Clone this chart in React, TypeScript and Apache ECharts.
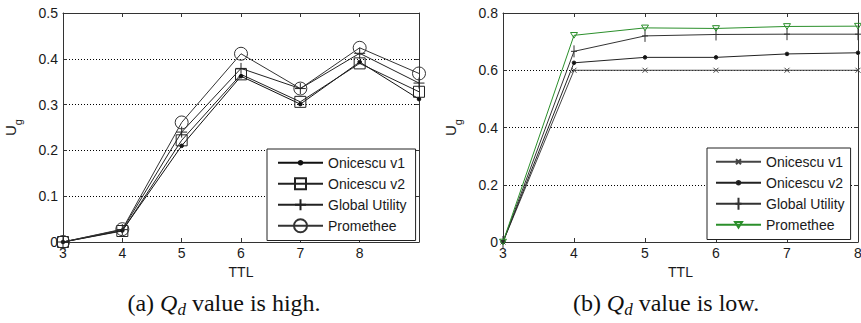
import React, { useEffect, useRef } from 'react';
import * as echarts from 'echarts';

// ---- data: panel (a) Q_d value is high ----
const ttlA = [3, 4, 5, 6, 7, 8, 9];
const aOnicescuV1 = [0, 0.025, 0.21, 0.362, 0.301, 0.393, 0.312];
const aOnicescuV2 = [0, 0.024, 0.222, 0.366, 0.306, 0.39, 0.328];
const aGlobalUtility = [0, 0.027, 0.24, 0.379, 0.335, 0.412, 0.347];
const aPromethee = [0, 0.028, 0.261, 0.411, 0.335, 0.424, 0.368];

// ---- data: panel (b) Q_d value is low ----
const ttlB = [3, 4, 5, 6, 7, 8];
const bOnicescuV1 = [0, 0.6, 0.6, 0.6, 0.6, 0.6];
const bOnicescuV2 = [0, 0.626, 0.645, 0.645, 0.657, 0.661];
const bGlobalUtility = [0, 0.666, 0.72, 0.725, 0.726, 0.726];
const bPromethee = [0, 0.722, 0.748, 0.746, 0.753, 0.754];

const seriesNames = ['Onicescu v1', 'Onicescu v2', 'Global Utility', 'Promethee'];
const xLabelA = 'TTL';
const xLabelB = 'TTL';
const captionA = '(a) {q|Q}{d|d} value is high.';
const captionB = '(b) {q|Q}{d|d} value is low.';

const PAD = 'M-7,-7M7,7';
const SYM = {
  dot: `path://${PAD}M-1.8,0A1.8,1.8,0,1,1,1.8,0A1.8,1.8,0,1,1,-1.8,0Z`,
  square: `path://${PAD}M-5.5,-5.5L5.5,-5.5L5.5,5.5L-5.5,5.5Z`,
  plus: `path://${PAD}M0,-5.5L0,5.5M-5.5,0L5.5,0`,
  circle: `path://${PAD}M-6.5,0A6.5,6.5,0,1,1,6.5,0A6.5,6.5,0,1,1,-6.5,0Z`,
  cross: `path://${PAD}M-2.5,-2.5L2.5,2.5M-2.5,2.5L2.5,-2.5`,
  plusB: `path://${PAD}M0,-6L0,6M-3,0L3,0`,
  triDown: `path://${PAD}M-3.5,-2.8L3.5,-2.8L0,2.8Z`,
};

const LINE = '#333';
const GREEN = '#2b8f2b';
const FONT = 'Liberation Sans, Arial, sans-serif';
const FS = 14;

const zip = (xs: number[], ys: number[]) => xs.map((x, i) => [x, ys[i]]);

function mkSeries(name: string, xs: number[], ys: number[], grid: number, symbol: string, color: string, fill: string) {
  return {
    type: 'line',
    name,
    xAxisIndex: grid * 2,
    yAxisIndex: grid * 2,
    data: zip(xs, ys),
    symbol,
    symbolSize: 14,
    showSymbol: true,
    lineStyle: { color, width: 1 },
    itemStyle: { color: fill, borderColor: color, borderWidth: 1 },
    emphasis: { disabled: true },
  };
}

function axisPair(grid: number, min: number, max: number, interval: number, isX: boolean, labelFmt: (v: number) => string, name?: string) {
  const base = {
    gridIndex: grid,
    type: 'value',
    min,
    max,
    interval,
    axisLine: { show: true, onZero: false, lineStyle: { color: LINE, width: 1 } },
    axisTick: { show: true, inside: true, length: 4, lineStyle: { color: LINE, width: 1 } },
  };
  const main: any = {
    ...base,
    position: isX ? 'bottom' : 'left',
    axisLabel: { color: '#1a1a1a', fontFamily: FONT, fontSize: FS, margin: isX ? 4 : 5, formatter: labelFmt },
    splitLine: isX
      ? { show: false }
      : { show: true, lineStyle: { color: '#000', width: 1, type: [1, 2] } },
  };
  if (isX) {
    main.name = name;
    main.nameLocation = 'middle';
    main.nameGap = 23;
    main.nameTextStyle = { color: '#1a1a1a', fontFamily: FONT, fontSize: FS };
  } else {
    main.name = '{u|U}{g|g}';
    main.nameLocation = 'middle';
    main.nameRotate = 90;
    main.nameGap = 40;
    main.nameTextStyle = {
      color: '#1a1a1a',
      fontFamily: FONT,
      rich: {
        u: { fontSize: 15, fontFamily: FONT, color: '#1a1a1a', lineHeight: 20, verticalAlign: 'top' },
        g: { fontSize: 11, fontFamily: FONT, color: '#1a1a1a', lineHeight: 12, verticalAlign: 'bottom' },
      },
    };
  }
  const mirror: any = {
    ...base,
    position: isX ? 'top' : 'right',
    axisLabel: { show: false },
    splitLine: { show: false },
  };
  return [main, mirror];
}

function legendFor(left: number, top: number, names: string[], padLeft: number, padRight: number) {
  return {
    orient: 'vertical',
    left,
    top,
    data: names,
    itemWidth: 45,
    itemHeight: 17.5,
    itemGap: 3.5,
    padding: [5, padRight, 6, padLeft],
    borderColor: '#222',
    borderWidth: 1,
    backgroundColor: '#fff',
    selectedMode: false,
    formatter: (n: string) => n.replace(' #b', ''),
    textStyle: { color: '#1a1a1a', fontFamily: FONT, fontSize: FS, lineHeight: 17.5 },
  };
}

export default function App() {
  const ref = useRef<HTMLDivElement>(null);
  useEffect(() => {
    if (!ref.current) return;
    const chart = echarts.init(ref.current, undefined, { renderer: 'svg' });
    const fmt1 = (v: number) => (v === 9 ? '' : String(v));
    const fmtYA = (v: number) => (v === 0 ? '0' : v.toFixed(1));
    const bNames = seriesNames.map((n) => n + ' #b');
    const [xa, xa2] = axisPair(0, 3, 9, 1, true, fmt1, xLabelA);
    const [ya, ya2] = axisPair(0, 0, 0.5, 0.1, false, fmtYA);
    const [xb, xb2] = axisPair(1, 3, 8, 1, true, (v) => String(v), xLabelB);
    const [yb, yb2] = axisPair(1, 0, 0.8, 0.2, false, fmtYA);
    const captionRich = {
      q: { fontStyle: 'italic', fontSize: 24, fontFamily: 'Liberation Serif, serif', lineHeight: 30 },
      d: { fontStyle: 'italic', fontSize: 17, fontFamily: 'Liberation Serif, serif', lineHeight: 14, verticalAlign: 'bottom' },
    };
    const option: any = {
      animation: false,
      backgroundColor: '#fff',
      grid: [
        { left: 63, top: 13, width: 356, height: 229, outerBoundsMode: 'none' },
        { left: 503, top: 13, width: 355, height: 229, outerBoundsMode: 'none' },
      ],
      xAxis: [xa, xa2, xb, xb2],
      yAxis: [ya, ya2, yb, yb2],
      legend: [legendFor(267, 149, seriesNames, 10, 9), legendFor(707, 148, bNames, 8, 6)],
      series: [
        mkSeries(seriesNames[0], ttlA, aOnicescuV1, 0, SYM.dot, '#111', '#111'),
        mkSeries(seriesNames[1], ttlA, aOnicescuV2, 0, SYM.square, '#222', 'rgba(0,0,0,0)'),
        mkSeries(seriesNames[2], ttlA, aGlobalUtility, 0, SYM.plus, '#222', 'rgba(0,0,0,0)'),
        mkSeries(seriesNames[3], ttlA, aPromethee, 0, SYM.circle, '#333', 'rgba(0,0,0,0)'),
        mkSeries(bNames[0], ttlB, bOnicescuV1, 1, SYM.cross, '#444', 'rgba(0,0,0,0)'),
        mkSeries(bNames[1], ttlB, bOnicescuV2, 1, SYM.dot, '#222', '#111'),
        mkSeries(bNames[2], ttlB, bGlobalUtility, 1, SYM.plusB, '#333', 'rgba(0,0,0,0)'),
        mkSeries(bNames[3], ttlB, bPromethee, 1, SYM.triDown, GREEN, 'rgba(0,0,0,0)'),
      ],
      graphic: [
        {
          type: 'text',
          x: 224,
          y: 303,
          style: {
            text: captionA,
            fontFamily: 'Liberation Serif, Times New Roman, serif',
            fontSize: 24,
            fill: '#111',
            align: 'center',
            verticalAlign: 'middle',
            lineHeight: 30,
            rich: captionRich,
          },
        },
        {
          type: 'text',
          x: 666,
          y: 303,
          style: {
            text: captionB,
            fontFamily: 'Liberation Serif, Times New Roman, serif',
            fontSize: 24,
            fill: '#111',
            align: 'center',
            verticalAlign: 'middle',
            lineHeight: 30,
            rich: captionRich,
          },
        },
      ],
    };
    chart.setOption(option);
    return () => chart.dispose();
  }, []);
  return <div ref={ref} style={{ position: 'fixed', left: 0, top: 0, width: 861, height: 323, background: '#fff' }} />;
}
